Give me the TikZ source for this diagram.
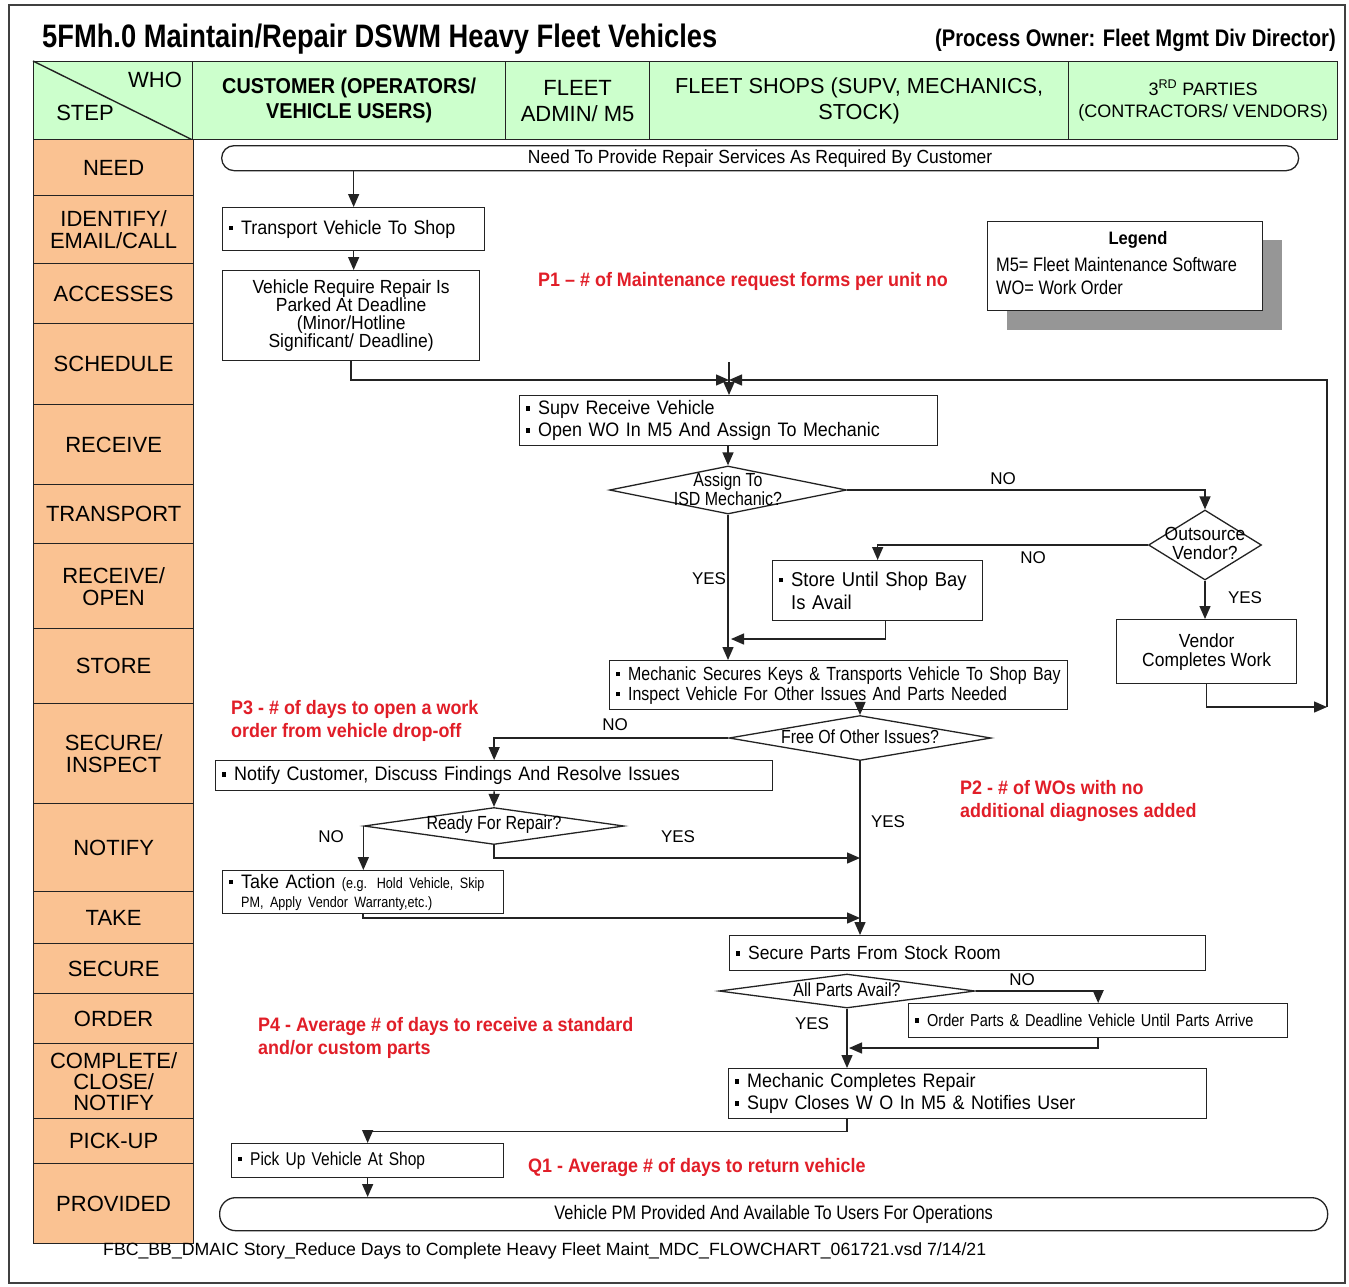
\documentclass[tikz,border=0pt]{standalone}
\usepackage{fontspec}
\setmainfont{Liberation Sans}
\newfontfamily\wf{Liberation Sans}
\newfontfamily\nf[FakeStretch=0.92]{Liberation Sans}
\newfontfamily\nnf[FakeStretch=0.84]{Liberation Sans}
\usetikzlibrary{arrows.meta,shapes.geometric,calc}
\definecolor{hdrgreen}{RGB}{204,255,204}
\definecolor{steporange}{RGB}{250,194,146}
\definecolor{kpired}{RGB}{225,30,40}
\definecolor{lineclr}{RGB}{35,35,35}
\definecolor{shadowgray}{RGB}{150,150,150}
\newcommand{\bul}{\rule[4pt]{4.5pt}{4.5pt}\hspace{8pt}}
\newcommand{\bulsp}{\hspace{12.5pt}}
\newcommand{\fs}[2]{\fontsize{#1}{#2}\selectfont}
\begin{document}
\begin{tikzpicture}[x=1pt,y=-1pt,
  ln/.style={draw=lineclr, line width=1.4pt},
  arr/.style={ln, -{Triangle[length=13pt,width=11pt]}},
  fbox/.style={draw=lineclr, line width=1.3pt, fill=white, anchor=north west, inner xsep=6pt, inner ysep=0pt, align=left},
  cbox/.style={draw=lineclr, line width=1.3pt, fill=white, anchor=north west, inner sep=0pt, align=center},
  term/.style={draw=lineclr, line width=1.3pt, fill=white, anchor=north west, inner sep=0pt, align=center},
  diam/.style={diamond, draw=lineclr, line width=1.3pt, fill=white, inner sep=0pt},
  dtext/.style={inner sep=0pt, align=center, font=\nnf\fs{19}{19}},
  hcell/.style={draw=lineclr, line width=1.3pt, fill=hdrgreen, anchor=north west, inner sep=0pt, align=center, minimum height=78pt},
  scell/.style={draw=lineclr, line width=1.3pt, fill=steporange, anchor=north west, inner sep=0pt, align=center, minimum width=160pt, font=\wf\fs{22}{22}},
  kpi/.style={anchor=west, align=left, text=kpired, font=\nf\bfseries\fs{19.5}{23}, inner sep=0pt},
  yn/.style={font=\wf\fs{17}{17}, inner sep=0pt},
]
\useasboundingbox (0,0) rectangle (1349,1286);
\fill[white] (0,0) rectangle (1349,1286);
\draw[line width=1.2pt, draw=black!75] (9,5) rectangle (1345,1283);

% title
\node[anchor=west, inner sep=0pt, font=\nnf\bfseries\fs{32.5}{34}] (title) at (42,39) {5FMh.0 Maintain/Repair DSWM Heavy Fleet Vehicles};
\node[anchor=east, inner sep=0pt, font=\nnf\bfseries\fs{24}{26}] (owner) at (1336,40) {(Process Owner: Fleet Mgmt Div Director)};

% header
\node[hcell, minimum width=159pt] (hstep) at (33,61) {};
\draw[ln] (hstep.north west) -- (hstep.south east);
\node[inner sep=0pt, font=\wf\fs{22}{22}] (who) at (155,80) {WHO};
\node[inner sep=0pt, font=\wf\fs{22}{22}] (stp) at (85,113) {STEP};
\node[hcell, minimum width=313pt, font=\nf\bfseries\fs{21.5}{25}] (hcust) at (192,61) {CUSTOMER (OPERATORS/\\VEHICLE USERS)};
\node[hcell, minimum width=144pt, font=\wf\fs{22}{26}] (hadmin) at (505,61) {FLEET\\ADMIN/ M5};
\node[hcell, minimum width=419pt, font=\wf\fs{21.7}{26}] (hshops) at (649,61) {FLEET SHOPS (SUPV, MECHANICS,\\STOCK)};
\node[hcell, minimum width=269pt, font=\wf\fs{18}{22}] (hthird) at (1068,61) {3\textsuperscript{RD} PARTIES\\(CONTRACTORS/ VENDORS)};

% step column
\node[scell, minimum height=56pt] (s1) at (33,139) {NEED};
\node[scell, minimum height=68pt] (s2) at (33,195) {IDENTIFY/\\EMAIL/CALL};
\node[scell, minimum height=60pt] (s3) at (33,263) {ACCESSES};
\node[scell, minimum height=81pt] (s4) at (33,323) {SCHEDULE};
\node[scell, minimum height=80pt] (s5) at (33,404) {RECEIVE};
\node[scell, minimum height=59pt] (s6) at (33,484) {TRANSPORT};
\node[scell, minimum height=85pt] (s7) at (33,543) {RECEIVE/\\OPEN};
\node[scell, minimum height=75pt] (s8) at (33,628) {STORE};
\node[scell, minimum height=100pt] (s9) at (33,703) {SECURE/\\INSPECT};
\node[scell, minimum height=88pt] (s10) at (33,803) {NOTIFY};
\node[scell, minimum height=52pt] (s11) at (33,891) {TAKE};
\node[scell, minimum height=50pt] (s12) at (33,943) {SECURE};
\node[scell, minimum height=50pt] (s13) at (33,993) {ORDER};
\node[scell, minimum height=75pt, font=\wf\fs{22}{21}] (s14) at (33,1043) {COMPLETE/\\CLOSE/\\NOTIFY};
\node[scell, minimum height=45pt] (s15) at (33,1118) {PICK-UP};
\node[scell, minimum height=80pt] (s16) at (33,1163) {PROVIDED};

% legend
\fill[shadowgray] (1007,240) rectangle (1282,330);
\node[fbox, minimum width=275pt, minimum height=89pt] (legend) at (987,221) {};
\node[inner sep=0pt, font=\nf\bfseries\fs{18}{18}] (legt) at (1138,240) {Legend};
\node[anchor=west, inner sep=0pt, align=left, font=\nnf\fs{19.5}{23}] (legb) at (996,276) {M5= Fleet Maintenance Software\\WO= Work Order};

% flow nodes
\node[term, minimum width=1077pt, minimum height=25pt, rounded corners=12.5pt, font=\nf\fs{19}{19}] (start) at (221,145) {Need To Provide Repair Services As Required By Customer};
\node[fbox, text width=250pt, minimum height=43pt, font=\nf\fs{19.5}{21}] (trans) at (222,207) {\bul Transport Vehicle To Shop};
\node[cbox, minimum width=257pt, minimum height=90pt, font=\nf\fs{19}{18}] (parked) at (222,270) {Vehicle Require Repair Is\\Parked At Deadline\\(Minor/Hotline\\Significant/ Deadline)};
\node[fbox, text width=406pt, minimum height=50pt, font=\nf\fs{19.5}{22}] (supv) at (519,395) {\bul Supv Receive Vehicle\\\bul Open WO In M5 And Assign To Mechanic};
\node[diam, minimum width=237pt, minimum height=48pt] (d1) at (728,490) {};
\node[dtext] (d1t) at (728,489) {Assign To\\ISD Mechanic?};
\node[diam, minimum width=113pt, minimum height=70pt] (d2) at (1205,545) {};
\node[dtext, font=\nf\fs{19}{19}] (d2t) at (1205,543) {Outsource\\Vendor?};
\node[fbox, text width=198pt, minimum height=60pt, font=\nf\fs{20}{23}] (store) at (772,560) {\bul Store Until Shop Bay\\\bulsp Is Avail};
\node[cbox, minimum width=180pt, minimum height=64pt, font=\nf\fs{19}{19}] (vendor) at (1116,619) {Vendor\\Completes Work};
\node[fbox, text width=446pt, minimum height=49pt, font=\nnf\fs{19}{20}] (mech) at (609,660) {\bul Mechanic Secures Keys \& Transports Vehicle To Shop Bay\\\bul Inspect Vehicle For Other Issues And Parts Needed};
\node[diam, minimum width=262pt, minimum height=45pt] (d3) at (860,738) {};
\node[dtext] (d3t) at (860,737) {Free Of Other Issues?};
\node[fbox, text width=545pt, minimum height=30pt, font=\nf\fs{19.5}{21}] (notify) at (215,760) {\bul Notify Customer, Discuss Findings And Resolve Issues};
\node[diam, minimum width=260pt, minimum height=37pt] (d4) at (494,826) {};
\node[dtext] (d4t) at (494,825) {Ready For Repair?};
\node[fbox, text width=269pt, minimum height=43pt, font=\nf\fs{19.5}{19}] (take) at (222,870) {\bul Take Action {\nnf\fs{15}{15}(e.g. Hold Vehicle, Skip}\\\bulsp{\nnf\fs{15}{15}PM, Apply Vendor Warranty,etc.)}};
\node[fbox, text width=464pt, minimum height=35pt, font=\nf\fs{19}{21}] (secure) at (729,935) {\bul Secure Parts From Stock Room};
\node[diam, minimum width=256pt, minimum height=34pt] (d5) at (847,991) {};
\node[dtext] (d5t) at (847,990) {All Parts Avail?};
\node[fbox, text width=367pt, minimum height=34pt, font=\nnf\fs{17.3}{19}] (order) at (908,1003) {\bul Order Parts \& Deadline Vehicle Until Parts Arrive};
\node[fbox, text width=466pt, minimum height=50pt, font=\nf\fs{19.5}{22}] (comp) at (728,1068) {\bul Mechanic Completes Repair\\\bul Supv Closes W O In M5 \& Notifies User};
\node[fbox, text width=260pt, minimum height=34pt, font=\nnf\fs{18.5}{20}] (pickup) at (231,1143) {\bul Pick Up Vehicle At Shop};
\node[term, minimum width=1108pt, minimum height=33pt, rounded corners=16pt, font=\nnf\fs{19.5}{20}] (endt) at (219,1197) {Vehicle PM Provided And Available To Users For Operations};

% KPI texts
\node[kpi] (p1) at (538,281) {P1 – \# of Maintenance request forms per unit no};
\node[kpi] (p3) at (231,721) {P3 - \# of days to open a work\\order from vehicle drop-off};
\node[kpi] (p2) at (960,801) {P2 - \# of WOs with no\\additional diagnoses added};
\node[kpi] (p4) at (258,1038) {P4 - Average \# of days to receive a standard\\and/or custom parts};
\node[kpi] (q1) at (528,1167) {Q1 - Average \# of days to return vehicle};

% footer
\node[anchor=west, inner sep=0pt, font=\wf\fs{17.7}{18}] (footer) at (103,1251) {FBC\_BB\_DMAIC Story\_Reduce Days to Complete Heavy Fleet Maint\_MDC\_FLOWCHART\_061721.vsd 7/14/21};

% yes / no labels
\node[yn] (n1) at (1003,479) {NO};
\node[yn] (n2) at (1033,558) {NO};
\node[yn] (y2) at (1245,598) {YES};
\node[yn] (y1) at (709,579) {YES};
\node[yn] (n3) at (615,725) {NO};
\node[yn] (n4) at (331,837) {NO};
\node[yn] (y4) at (678,837) {YES};
\node[yn] (y3) at (888,822) {YES};
\node[yn] (n5) at (1022,980) {NO};
\node[yn] (y5) at (812,1024) {YES};

% coordinates
\coordinate (j1) at (729,380);
\coordinate (stub) at (729,362);
\coordinate (rv) at (1327,707);
\coordinate (m1) at (731,639);
\coordinate (m2) at (860,858);
\coordinate (m3) at (860,918);
\coordinate (m4) at (849,1048);

% connectors
\draw[arr] (trans.north |- start.south) -- (trans.north);
\draw[arr] (trans.south) -- (trans.south |- parked.north);
\draw[arr] (parked.south) |- (j1);
\draw[arr] (stub) -- (stub |- supv.north);
\draw[arr] (vendor.south) |- (rv);
\draw[arr] (rv) |- (j1);
\draw[arr] (supv.south -| d1.north) -- (d1.north);
\draw[arr] (d1.east) -| (d2.north);
\draw[arr] (d2.west) -| (store.north);
\draw[arr] (d2.south) -- (vendor.north -| d2.south);
\draw[arr] (d1.south) -- (d1.south |- mech.north);
\draw[arr] ([xshift=8pt]store.south) |- (m1);
\draw[arr] (d3.north |- mech.south) -- (d3.north);
\draw[arr] (d3.west) -| (notify.south |- notify.north);
\draw[arr] (notify.south) -- (d4.north);
\draw[arr] (d4.west) -- (d4.west |- take.north);
\draw[arr] (d4.south) |- (m2);
\draw[arr] (take.south) |- (m3);
\draw[arr] (d3.south) -- (d3.south |- secure.north);
\draw[arr] (d5.east) -| (order.north);
\draw[arr] (order.south) |- (m4);
\draw[arr] (d5.south) -- (d5.south |- comp.north);
\draw[arr] (d5.south |- comp.south) -- ++(0,12) -| (pickup.north);
\draw[arr] (pickup.south) -- (pickup.south |- endt.north);
\end{tikzpicture}
\end{document}
